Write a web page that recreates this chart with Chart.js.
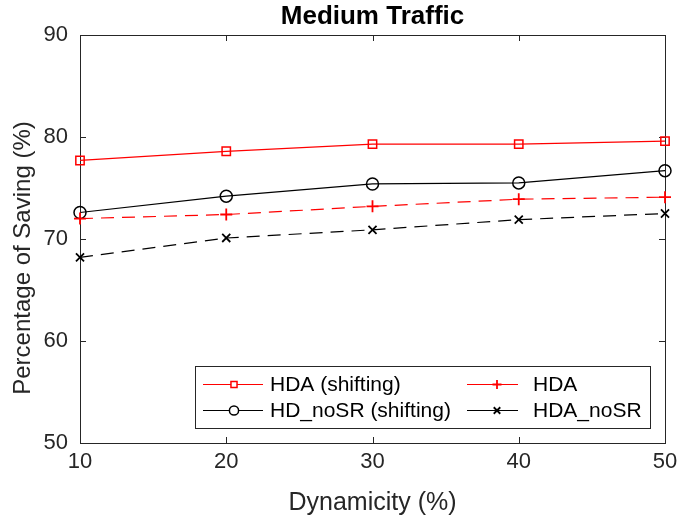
<!DOCTYPE html>
<html>
<head>
<meta charset="utf-8">
<script src="https://cdn.jsdelivr.net/npm/chart.js@4.4.0/dist/chart.umd.min.js"></script>
<style>
  html, body { margin: 0; padding: 0; background: #fff; }
  #wrap { width: 681px; height: 520px; }
</style>
</head>
<body>
<div id="wrap"><canvas id="chart"></canvas></div>
<script>
const dynamicity = [10, 20, 30, 40, 50]
const hdaShifting = [77.7, 78.6, 79.3, 79.3, 79.6]
const hdNoSRShifting = [72.6, 74.2, 75.4, 75.5, 76.7]
const hda = [72.0, 72.4, 73.2, 73.9, 74.1]
const hdaNoSR = [68.2, 70.1, 70.9, 71.9, 72.5]
const yTicks = [50, 60, 70, 80, 90]
const xTicks = [10, 20, 30, 40, 50]

const chartTitle = 'Medium Traffic'
const xLabel = 'Dynamicity (%)'
const yLabel = 'Percentage of Saving (%)'

const FONT = "'Liberation Sans', Arial, Helvetica, sans-serif"
const AXIS = '#262626'

const toPoints = (values) => dynamicity.map((x, i) => ({ x: x, y: values[i] }))

const makeSet = (label, values, color, style, radius, dash, markerWidth) => ({
    label: label,
    data: toPoints(values),
    borderColor: color,
    backgroundColor: 'rgba(0,0,0,0)',
    borderWidth: 1.2,
    borderDash: dash,
    pointStyle: style,
    pointRadius: radius,
    pointHoverRadius: radius,
    pointBorderColor: color,
    pointBackgroundColor: 'rgba(0,0,0,0)',
    pointBorderWidth: markerWidth,
    tension: 0,
    clip: false
})

// box around the axes with inward ticks, plus title and y label (MATLAB places them off-center)
const boxPlugin = {
    id: 'box',
    beforeDatasetsDraw(chart) {
        const { ctx, chartArea: a, scales } = chart
        ctx.save()
        ctx.strokeStyle = AXIS
        ctx.lineWidth = 1
        ctx.strokeRect(a.left + 0.5, a.top + 0.5, a.right - a.left, a.bottom - a.top)
        const len = 6
        ctx.beginPath()
        xTicks.forEach(v => {
            const px = Math.round(scales.x.getPixelForValue(v)) + 0.5
            ctx.moveTo(px, a.bottom); ctx.lineTo(px, a.bottom - len)
            ctx.moveTo(px, a.top); ctx.lineTo(px, a.top + len)
        })
        yTicks.forEach(v => {
            const py = Math.round(scales.y.getPixelForValue(v)) + 0.5
            ctx.moveTo(a.left, py); ctx.lineTo(a.left + len, py)
            ctx.moveTo(a.right, py); ctx.lineTo(a.right - len, py)
        })
        ctx.stroke()

        ctx.fillStyle = '#000'
        ctx.textAlign = 'center'
        ctx.textBaseline = 'middle'
        ctx.font = 'bold 26px ' + FONT
        ctx.fillText(chartTitle, (a.left + a.right) / 2, 17)

        ctx.fillStyle = AXIS
        ctx.font = '24px ' + FONT
        ctx.translate(23, 258)
        ctx.rotate(-Math.PI / 2)
        ctx.fillText(yLabel, 0, 0)
        ctx.restore()
    }
}

// two column legend inside the axes
const legendPlugin = {
    id: 'innerLegend',
    afterDatasetsDraw(chart) {
        const { ctx } = chart
        const box = { x: 195, y: 366, w: 455, h: 62 }
        const cols = [
            { l0: 203, l1: 263, m: 234, t: 270 },
            { l0: 467, l1: 518, m: 497, t: 533 }
        ]
        const rows = [384, 410]
        const sizes = [4.3, 4.5, 4.6, 4.6]
        ctx.save()
        ctx.fillStyle = '#fff'
        ctx.fillRect(box.x, box.y, box.w, box.h)
        ctx.strokeStyle = AXIS
        ctx.lineWidth = 1
        ctx.strokeRect(box.x + 0.5, box.y + 0.5, box.w, box.h)
        chart.data.datasets.forEach((ds, i) => {
            const c = cols[i % 2]
            const y = rows[Math.floor(i / 2)]
            ctx.strokeStyle = ds.borderColor
            ctx.lineWidth = 1
            ctx.setLineDash([])
            ctx.beginPath()
            ctx.moveTo(c.l0, y + 0.5)
            ctx.lineTo(c.l1, y + 0.5)
            ctx.stroke()
            ctx.fillStyle = '#fff'
            ctx.lineWidth = ds.pointBorderWidth
            Chart.helpers.drawPoint(ctx, {
                pointStyle: ds.pointStyle,
                radius: sizes[i],
                rotation: 0,
                borderWidth: ds.pointBorderWidth
            }, c.m, y + 0.5)
            ctx.fillStyle = '#000'
            ctx.font = '21px ' + FONT
            ctx.textBaseline = 'middle'
            ctx.textAlign = 'left'
            ctx.fillText(ds.label, c.t, y + 1)
        })
        ctx.restore()
    }
}

window.addEventListener('load', () => {
    const el = document.getElementById('chart')
    new Chart(el, {
        type: 'line',
        data: {
            datasets: [
                makeSet('HDA (shifting)', hdaShifting, '#ff0000', 'rect', 5.9, [], 1.5),
                makeSet('HDA', hda, '#ff0000', 'cross', 6, [13, 8], 1.8),
                makeSet('HD_noSR (shifting)', hdNoSRShifting, '#000000', 'circle', 6, [], 1.5),
                makeSet('HDA_noSR', hdaNoSR, '#000000', 'crossRot', 5.7, [13, 8], 1.8)
            ]
        },
        options: {
            responsive: true,
            maintainAspectRatio: false,
            animation: false,
            events: [],
            layout: { padding: { left: 0, right: 16, top: 35, bottom: 0 } },
            plugins: {
                legend: { display: false },
                tooltip: { enabled: false },
                title: { display: false }
            },
            scales: {
                x: {
                    type: 'linear',
                    min: 10,
                    max: 50,
                    afterBuildTicks: (scale) => { scale.ticks = xTicks.map(v => ({ value: v })) },
                    afterFit: (scale) => {
                        scale.height = 77
                        scale.paddingLeft = 0
                        scale.paddingRight = 0
                    },
                    grid: { display: false, drawTicks: false },
                    border: { display: false },
                    ticks: {
                        color: AXIS,
                        padding: 6,
                        maxRotation: 0,
                        font: { family: FONT, size: 22 }
                    },
                    title: {
                        display: true,
                        text: xLabel,
                        color: AXIS,
                        font: { family: FONT, size: 25, lineHeight: 1.2 },
                        padding: { top: 0, bottom: 2 }
                    }
                },
                y: {
                    min: 50,
                    max: 90,
                    afterBuildTicks: (scale) => { scale.ticks = yTicks.map(v => ({ value: v })) },
                    afterFit: (scale) => {
                        scale.width = 80
                        scale.paddingTop = 0
                        scale.paddingBottom = 0
                    },
                    grid: { display: false, drawTicks: false },
                    border: { display: false },
                    ticks: {
                        color: AXIS,
                        padding: 12,
                        font: { family: FONT, size: 22 }
                    }
                }
            }
        },
        plugins: [boxPlugin, legendPlugin]
    })
})
</script>
</body>
</html>
